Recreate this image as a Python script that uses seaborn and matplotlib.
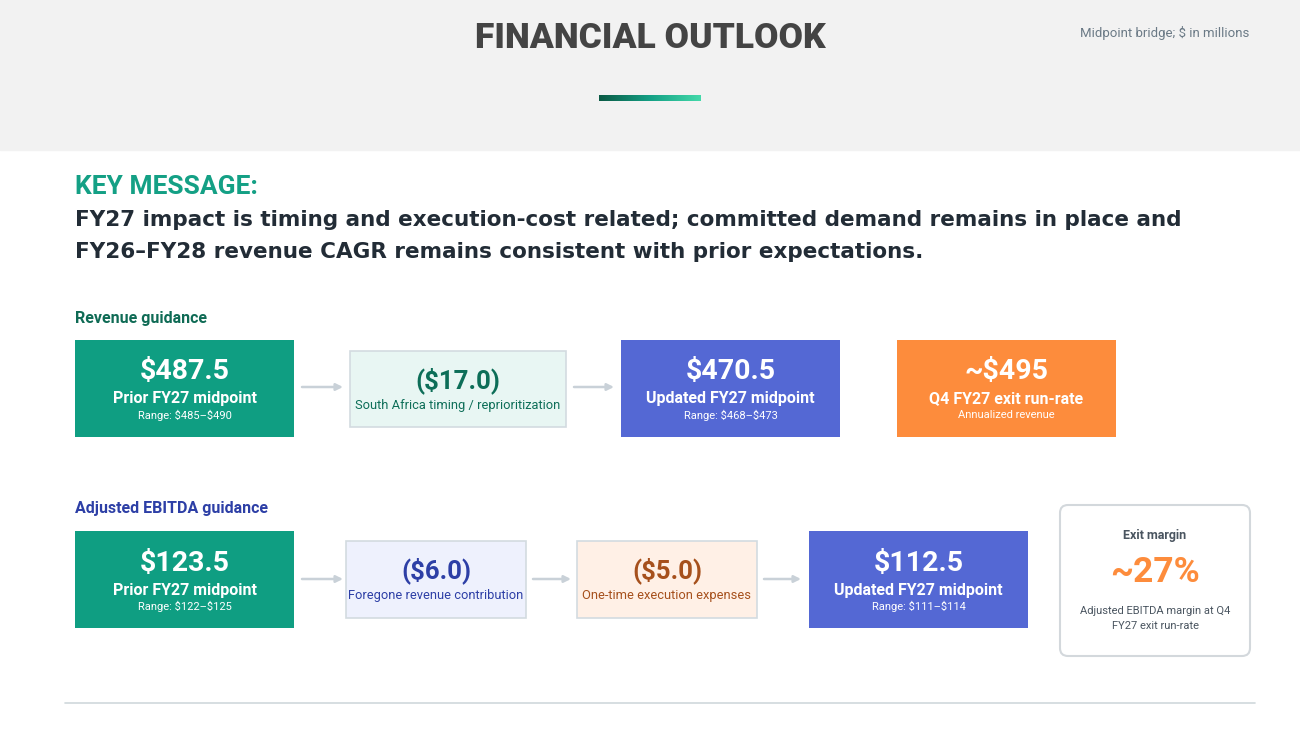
import numpy as np
import seaborn as sns
import matplotlib.pyplot as plt
from matplotlib.patches import Rectangle, FancyBboxPatch

sns.set_theme(style="white")
plt.rcParams["font.family"] = ["Roboto", "DejaVu Sans"]
plt.rcParams["text.parse_math"] = False

# ---- data (text values) ----
rev_values = ["$487.5", "($17.0)", "$470.5", "~$495"]
rev_labels = ["Prior FY27 midpoint", "South Africa timing / reprioritization",
              "Updated FY27 midpoint", "Q4 FY27 exit run-rate"]
rev_notes = ["Range: $485\u2013$490", "", "Range: $468\u2013$473", "Annualized revenue"]

ebitda_values = ["$123.5", "($6.0)", "($5.0)", "$112.5"]
ebitda_labels = ["Prior FY27 midpoint", "Foregone revenue contribution",
                 "One-time execution expenses", "Updated FY27 midpoint"]
ebitda_notes = ["Range: $122\u2013$125", "", "", "Range: $111\u2013$114"]

exit_margin = "~27%"

# ---- colours ----
TEAL = "#0f9e82"
BLUE = "#5468d4"
ORANGE = "#fd8c3c"
EDGE = "#d3dbe0"
ARROW = "#c9d1d8"

fig = plt.figure(figsize=(13, 7.31), dpi=100)
ax = fig.add_axes([0, 0, 1, 1])
ax.set_xlim(0, 1300)
ax.set_ylim(731, 0)
ax.axis("off")

# header band
ax.add_patch(Rectangle((0, 0), 1300, 150, color="#f2f2f2", zorder=0))
ax.text(650, 38, "FINANCIAL OUTLOOK", ha="center", va="center", fontsize=25.5,
        fontweight="black", color="#444444")
ax.text(1249, 33, "Midpoint bridge; $ in millions", ha="right", va="center",
        fontsize=9.5, color="#6b7a86")
grad = np.linspace(0, 1, 200).reshape(1, -1)
cmap = sns.blend_palette(["#0b5a45", "#14a085", "#44d9aa"], as_cmap=True)
ax.imshow(grad, extent=(599, 701, 101, 95), cmap=cmap, aspect="auto", zorder=2)

# key message
ax.text(75, 187, "KEY MESSAGE:", ha="left", va="center", fontsize=19,
        fontweight="bold", color="#14a085")
msg_font = ["DejaVu Sans"]
ax.text(75, 220, "FY27 impact is timing and execution-cost related; committed demand remains in place and",
        ha="left", va="center", fontsize=15.5, fontweight="bold", color="#222c36",
        family=msg_font)
ax.text(75, 252, "FY26\u2013FY28 revenue CAGR remains consistent with prior expectations.",
        ha="left", va="center", fontsize=15.5, fontweight="bold", color="#222c36",
        family=msg_font)

ax.text(75, 318, "Revenue guidance", ha="left", va="center", fontsize=11.5,
        fontweight="bold", color="#0f6b55")
ax.text(75, 509, "Adjusted EBITDA guidance", ha="left", va="center", fontsize=11.5,
        fontweight="bold", color="#2d3fa6")


def solid_box(x0, x1, y0, y1, color, value, label, note):
    ax.add_patch(Rectangle((x0, y0), x1 - x0, y1 - y0, facecolor=color,
                           edgecolor="none", zorder=2))
    cx = (x0 + x1) / 2
    ax.text(cx, y0 + 32, value, ha="center", va="center", fontsize=20.5,
            fontweight="bold", color="white", zorder=3)
    ax.text(cx, y0 + 59, label, ha="center", va="center", fontsize=11.5,
            fontweight="bold", color="white", zorder=3)
    if note:
        ax.text(cx, y0 + 75, note, ha="center", va="center", fontsize=8,
                color="white", zorder=3)


def light_box(x0, x1, y0, y1, face, tcolor, value, label):
    ax.add_patch(Rectangle((x0, y0), x1 - x0, y1 - y0, facecolor=face,
                           edgecolor=EDGE, linewidth=1.2, zorder=2))
    cx = (x0 + x1) / 2
    ax.text(cx, y0 + 30, value, ha="center", va="center", fontsize=18.5,
            fontweight="bold", color=tcolor, zorder=3)
    ax.text(cx, y0 + 54, label, ha="center", va="center", fontsize=9.3,
            color=tcolor, zorder=3)


def arrow(x0, x1, y):
    ax.annotate("", xy=(x1, y), xytext=(x0, y),
                arrowprops=dict(arrowstyle="-|>", color=ARROW, lw=1.8,
                                mutation_scale=10, shrinkA=0, shrinkB=0))


# revenue row
ry0, ry1 = 340, 437
solid_box(75, 294, ry0, ry1, TEAL, rev_values[0], rev_labels[0], rev_notes[0])
arrow(302, 343, 387)
light_box(350, 566, 351, 427, "#e8f6f3", "#0d6e58", rev_values[1], rev_labels[1])
arrow(574, 614, 387)
solid_box(621, 840, ry0, ry1, BLUE, rev_values[2], rev_labels[2], rev_notes[2])
solid_box(897, 1116, ry0, ry1, ORANGE, rev_values[3], rev_labels[3], rev_notes[3])

# ebitda row
ey0, ey1 = 531, 628
solid_box(75, 294, ey0, ey1, TEAL, ebitda_values[0], ebitda_labels[0], ebitda_notes[0])
arrow(302, 343, 579)
light_box(346, 526, 541, 618, "#eef1fd", "#2d3fa6", ebitda_values[1], ebitda_labels[1])
arrow(533, 571, 579)
light_box(577, 757, 541, 618, "#fff0e6", "#a6501c", ebitda_values[2], ebitda_labels[2])
arrow(764, 801, 579)
solid_box(809, 1028, ey0, ey1, BLUE, ebitda_values[3], ebitda_labels[3], ebitda_notes[3])

# exit margin card
ax.add_patch(FancyBboxPatch((1060, 505), 190, 151,
                            boxstyle="round,pad=0,rounding_size=8",
                            facecolor="white", edgecolor="#d3d8dc", lw=1.5, zorder=2))
ax.text(1155, 536, "Exit margin", ha="center", va="center", fontsize=9,
        fontweight="bold", color="#4a5560", zorder=3)
ax.text(1155, 573, exit_margin, ha="center", va="center", fontsize=25.5,
        fontweight="bold", color=ORANGE, zorder=3)
ax.text(1155, 611, "Adjusted EBITDA margin at Q4", ha="center", va="center",
        fontsize=8, color="#4a5560", zorder=3)
ax.text(1155, 626, "FY27 exit run-rate", ha="center", va="center",
        fontsize=8, color="#4a5560", zorder=3)

# footer rule
ax.plot([65, 1255], [703, 703], color="#cfd8dc", lw=1.2)

fig.savefig("out.png", dpi=100, facecolor="white")
